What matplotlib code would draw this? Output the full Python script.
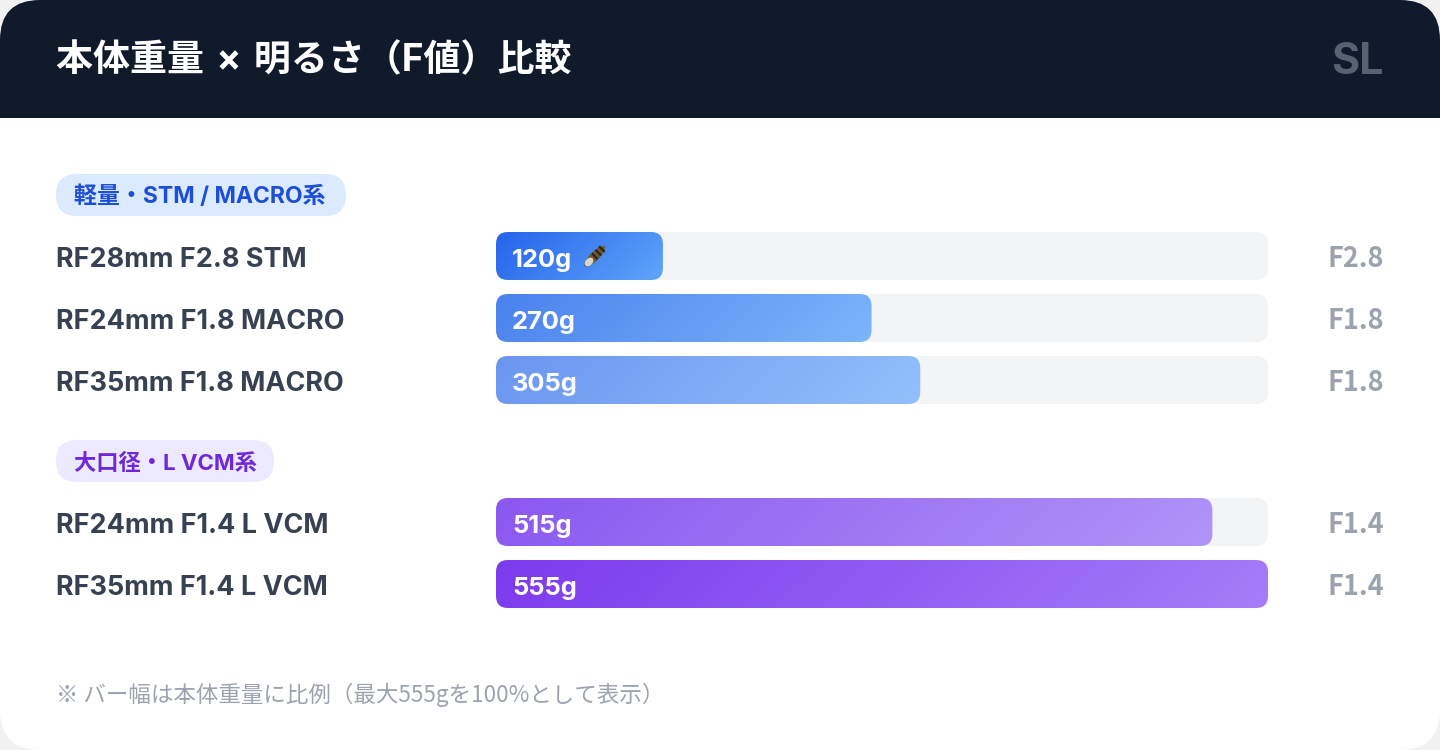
import numpy as np
import matplotlib
matplotlib.use('Agg')
import matplotlib.pyplot as plt
from matplotlib.colors import LinearSegmentedColormap
from matplotlib.patches import FancyBboxPatch, Ellipse, Rectangle
from matplotlib.transforms import Affine2D

plt.rcParams['font.family'] = ['Inter', 'Noto Sans CJK JP', 'DejaVu Sans']
NOTO = ['Noto Sans CJK JP', 'DejaVu Sans']

# Data
lenses_light = ['RF28mm F2.8 STM', 'RF24mm F1.8 MACRO', 'RF35mm F1.8 MACRO']
weights_light = [120, 270, 305]
fnum_light = ['F2.8', 'F1.8', 'F1.8']
lenses_large = ['RF24mm F1.4 L VCM', 'RF35mm F1.4 L VCM']
weights_large = [515, 555]
fnum_large = ['F1.4', 'F1.4']
max_weight = 555

colors_light = [('#2563eb', '#60a5fa'), ('#4a82ee', '#7db5fb'), ('#6a96f0', '#93c0fb')]
colors_large = [('#8b58f0', '#b094f8'), ('#7c3aed', '#a67df8')]


def px(size):
    return size * 0.72


def rounded(x, y, w, h, r, **kw):
    return FancyBboxPatch((x + r, y + r), w - 2 * r, h - 2 * r,
                          boxstyle=f'round,pad={r},rounding_size={r}', **kw)


def draw_row(y, name, weight, fnum, cols, ax):
    ax.text(56, y + 28, name, fontsize=px(27), fontweight='bold', color='#374151', va='center')
    ax.add_patch(rounded(496, y, 772, 48, 12, fc='#f3f4f6', ec='none', zorder=1))
    width = weight / max_weight * 772
    cmap = LinearSegmentedColormap.from_list('bar', cols)
    # diagonal gradient, like a css 135deg fill
    xx, yy = np.meshgrid(np.linspace(0, width, 400), np.linspace(0, 48, 48))
    im = ax.imshow((xx + yy) / (width + 48), cmap=cmap, aspect='auto',
                   extent=(496, 496 + width, y + 48, y), zorder=2)
    clip = rounded(496, y, width, 48, 12, fc='none', ec='none', transform=ax.transData)
    ax.add_patch(clip)
    im.set_clip_path(clip)
    ax.text(512, y + 28, f'{weight}g', fontsize=px(25.5), fontweight='bold', color='white',
            va='center', zorder=3)
    ax.text(1384, y + 27, fnum, fontsize=px(27), fontweight='bold', color='#9ca3af',
            va='center', ha='right', family=NOTO)


fig = plt.figure(figsize=(14.4, 7.5), dpi=100, facecolor='#f1f1f1')
ax = fig.add_axes([0, 0, 1, 1])
ax.set_xlim(0, 1440)
ax.set_ylim(750, 0)
ax.axis('off')

# card and header
card = rounded(0, 0, 1440, 750, 40, fc='white', ec='none', zorder=0)
ax.add_patch(card)
header = Rectangle((0, 0), 1440, 118, fc='#111a2b', ec='none', zorder=0.5)
ax.add_patch(header)
header.set_clip_path(card)
ax.text(56, 61, '本体重量\u2004×\u2004明るさ（F値）比較', fontsize=px(37), fontweight='bold', color='white', va='center')
ax.text(1384, 63, 'SL', fontsize=px(43), fontweight='bold', color='#596170', va='center', ha='right')

# group labels
ax.add_patch(rounded(56, 174, 290, 42, 21, fc='#dbeafe', ec='none'))
ax.text(74, 197, '軽量・STM / MACRO系', fontsize=px(23), fontweight='bold', color='#1d4ed8', va='center')
ax.add_patch(rounded(56, 440, 218, 42, 21, fc='#ede9fe', ec='none'))
ax.text(74, 463, '大口径・L VCM系', fontsize=px(22.3), fontweight='bold', color='#6d28d9', va='center')

for y, n, w, f, c in zip([232, 294, 356], lenses_light, weights_light, fnum_light, colors_light):
    draw_row(y, n, w, f, c, ax)
for y, n, w, f, c in zip([498, 560], lenses_large, weights_large, fnum_large, colors_large):
    draw_row(y, n, w, f, c, ax)

# feather next to the first bar's label
rot = Affine2D().rotate_deg_around(594, 257, -45) + ax.transData
ax.add_patch(Ellipse((595, 257), 28, 9, fc='#6e5832', ec='none', zorder=3, transform=rot))
for dx in (0, 5, 10):
    ax.add_patch(Rectangle((594 + dx, 253), 2.2, 8, fc='#2e2416', ec='none', zorder=3.1, transform=rot))
ax.add_patch(Ellipse((587, 257), 10, 7, fc='#d9d5c8', ec='none', zorder=3.2, transform=rot))

ax.text(56, 695, '※ バー幅は本体重量に比例（最大555gを100%として表示）', fontsize=px(22.5), color='#9ca3af',
        va='center', family=NOTO)

fig.savefig('out.png', dpi=100, facecolor=fig.get_facecolor())
